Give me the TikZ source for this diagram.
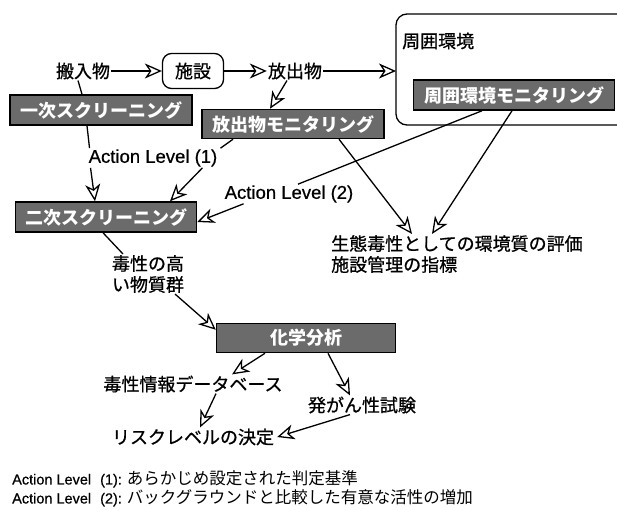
\documentclass[tikz,border=0pt]{standalone}
\usepackage{fontspec}
\setmainfont{Liberation Sans}[FakeBold=0.6]
\newfontfamily\cjk{Noto Sans CJK JP}
\newfontfamily\cjkm{Noto Sans CJK JP}[FakeBold=0.8]
\usetikzlibrary{arrows.meta}
\begin{document}
\begin{tikzpicture}[x=1pt,y=-1pt,
  darkbox/.style={draw=black, line width=1.5pt, fill=black!58, text=white,
    font=\cjk\bfseries\fontsize{18}{20}\selectfont, minimum height=30pt, inner sep=0pt},
  lbl/.style={font=\cjkm\fontsize{18}{21}\selectfont, inner sep=1pt},
  altext/.style={font=\fontsize{18.5}{20}\selectfont, inner sep=1pt},
  legend/.style={font=\fontsize{14.5}{16}\selectfont, inner sep=0pt, anchor=west},
  conn/.style={line width=1.3pt},
  arr/.style={conn, -{Stealth[open, length=17pt, width=15pt, inset=5pt]}}
]
\useasboundingbox (0,0) rectangle (617,509);
\fill[white] (0,0) rectangle (617,509);

% surrounding environment (cut at the right edge)
\draw[line width=1.3pt, rounded corners=11pt] (617,14) -- (396,14) -- (396,125) -- (617,125);
\coordinate (envwest) at (396,71);
\node[lbl, anchor=west] (shuilbl) at (401,41) {周囲環境};

% top row
\node[lbl] (hannyu) at (83,71) {搬入物};
\node[draw, line width=1.3pt, rounded corners=9pt, minimum width=61pt, minimum height=35pt,
  font=\cjkm\fontsize{18}{20}\selectfont, inner sep=0pt] (shisetsu) at (193,71) {施設};
\node[lbl] (houshutsu) at (295,71) {放出物};

% dark boxes
\node[darkbox, minimum width=182pt] (ichiji) at (101,110) {一次スクリーニング};
\node[darkbox, minimum width=182pt, minimum height=29pt] (homon) at (293,124) {放出物モニタリング};
\node[darkbox, minimum width=201pt] (shuimon) at (514,95) {周囲環境モニタリング};
\node[darkbox, minimum width=181pt] (niji) at (106,217) {二次スクリーニング};
\node[darkbox, minimum width=179pt, minimum height=29pt] (kagaku) at (306,338) {化学分析};

% action level texts
\node[altext] (al1) at (153,158) {Action Level (1)};
\node[altext] (al2) at (289,194) {Action Level (2)};

% other texts
\node[lbl, align=center] (dokusei) at (148,274) {毒性の高\\い物質群};
\node[lbl, align=left, anchor=west] (seitai) at (330,254) {生態毒性としての環境質の評価\\施設管理の指標};
\node[lbl] (dokujo) at (193,384) {毒性情報データベース};
\node[lbl] (hatsugan) at (362,405) {発がん性試験};
\node[lbl] (risk) at (193,437) {リスクレベルの決定};

% legend
\node[legend] (leg1) at (12,479) {Action Level\hspace{9pt}(1):\hspace{5pt}{\cjk\fontsize{16.5}{18}\selectfont あらかじめ設定された判定基準}};
\node[legend] (leg2) at (12,498) {Action Level\hspace{9pt}(2):\hspace{5pt}{\cjk\fontsize{16.5}{18}\selectfont バックグラウンドと比較した有意な活性の増加}};

% connectors
\draw[arr] (hannyu.east) -- (shisetsu.west);
\draw[arr] (shisetsu.east) -- (houshutsu.west);
\draw[arr] (houshutsu.east) -- (envwest);
\draw[arr] ([xshift=-8pt]houshutsu.south) -- ([xshift=-23pt]homon.north);

\draw[conn] ([xshift=-5pt]hannyu.south) -- ([xshift=-19pt]ichiji.north);
\draw[conn] ([xshift=-14pt]ichiji.south) -- ([xshift=2pt]al1.north west);
\draw[arr] ([xshift=3pt]al1.south west) -- ([xshift=-11pt]niji.north);
\draw[conn] ([xshift=-60pt]homon.south) -- ([xshift=2pt]al1.north east);
\draw[arr] ([xshift=-16pt]al1.south east) -- ([xshift=64pt]niji.north);
\draw[arr] ([xshift=20pt]al2.south west) -- ([yshift=-5pt]niji.east);
\draw[conn] ([xshift=-32pt]shuimon.south) -- ([xshift=9pt]al2.north);

\draw[arr] ([xshift=-2pt]shuimon.south) -- ([xshift=102pt]seitai.north west);
\draw[arr] ([xshift=46pt]homon.south) -- ([xshift=82pt]seitai.north west);

\draw[conn] ([xshift=-3pt]niji.south) -- ([xshift=-25pt]dokusei.north);
\draw[arr] ([xshift=27pt]dokusei.south) -- ([yshift=-7pt]kagaku.north west);
\draw[arr] ([xshift=-41pt]kagaku.south) -- ([xshift=39pt]dokujo.north);
\draw[arr] ([xshift=22pt]kagaku.south) -- ([xshift=-12pt]hatsugan.north);
\draw[arr] ([xshift=23pt]dokujo.south) -- ([xshift=7pt]risk.north);
\draw[arr] ([xshift=-12pt]hatsugan.south) -- ([xshift=2pt]risk.east);
\end{tikzpicture}
\end{document}
